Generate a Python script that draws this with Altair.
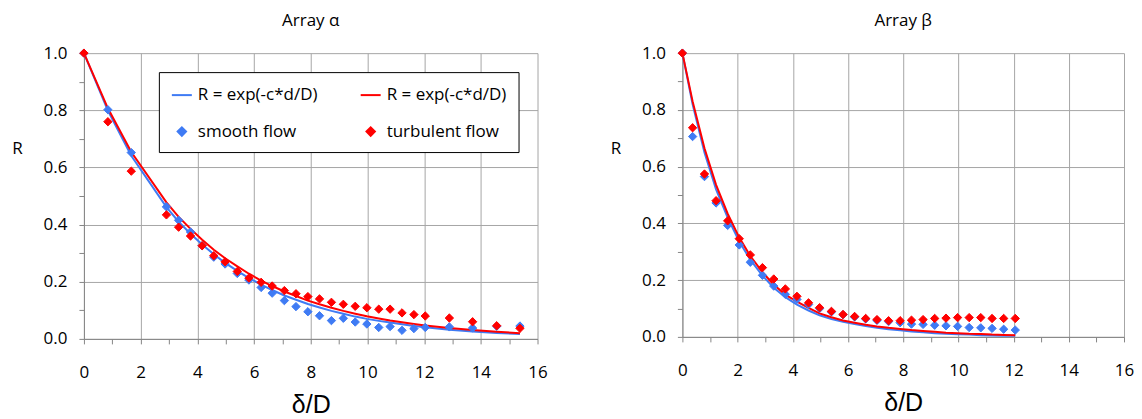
import altair as alt
import pandas as pd

BLUE = "#3f7bf4"
RED = "#ff0000"
FIT_S = "fit smooth"
FIT_T = "fit turbulent"
FIT_LABEL = "R = exp(-c*d/D)"

# ---- Array alpha ----
alpha_x = [0, 0.845, 1.67, 2.91, 3.34, 3.76, 4.17, 4.58, 4.98, 5.41, 5.82, 6.25, 6.64, 7.07, 7.48,
           7.90, 8.31, 8.73, 9.15, 9.57, 9.98, 10.40, 10.80, 11.22, 11.64, 12.04, 12.89, 13.71, 14.56, 15.38]
alpha_smooth = [1.0, 0.802, 0.652, 0.462, 0.415, 0.374, 0.326, 0.286, 0.262, 0.229, 0.206, 0.180, 0.160,
                0.134, 0.113, 0.095, 0.081, 0.064, 0.072, 0.059, 0.052, 0.040, 0.043, 0.030, 0.036, 0.040,
                0.042, 0.038, 0.044, 0.045]
alpha_turb = [1.0, 0.760, 0.587, 0.434, 0.391, 0.360, 0.326, 0.291, 0.270, 0.236, 0.213, 0.198, 0.185,
              0.169, 0.158, 0.148, 0.140, 0.128, 0.121, 0.114, 0.109, 0.104, 0.104, 0.091, 0.085, 0.080,
              0.073, 0.060, 0.046, 0.037]
alpha_fit_smooth = [1.0, 0.799, 0.641, 0.461, 0.410, 0.368, 0.330, 0.296, 0.266, 0.238, 0.213, 0.190, 0.171,
                    0.152, 0.137, 0.122, 0.110, 0.098, 0.088, 0.078, 0.070, 0.063, 0.057, 0.051, 0.045, 0.041,
                    0.032, 0.026, 0.021, 0.017]
alpha_fit_turb = [1.0, 0.807, 0.654, 0.478, 0.427, 0.385, 0.347, 0.312, 0.282, 0.254, 0.228, 0.204, 0.185,
                  0.166, 0.150, 0.134, 0.121, 0.109, 0.098, 0.088, 0.079, 0.071, 0.064, 0.058, 0.052, 0.047,
                  0.038, 0.031, 0.025, 0.020]

# ---- Array beta ----
beta_x = [0, 0.37, 0.80, 1.22, 1.64, 2.06, 2.46, 2.90, 3.31, 3.73, 4.15, 4.57, 4.97, 5.40, 5.82, 6.24,
          6.64, 7.05, 7.47, 7.89, 8.30, 8.72, 9.14, 9.55, 9.97, 10.39, 10.81, 11.22, 11.64, 12.06]
beta_smooth = [1.0, 0.706, 0.565, 0.472, 0.393, 0.324, 0.263, 0.217, 0.179, 0.150, 0.132, 0.114, 0.100,
               0.088, 0.078, 0.070, 0.063, 0.058, 0.054, 0.050, 0.045, 0.044, 0.041, 0.039, 0.037, 0.033,
               0.032, 0.030, 0.027, 0.024]
beta_turb = [1.0, 0.737, 0.574, 0.480, 0.409, 0.346, 0.289, 0.244, 0.204, 0.169, 0.143, 0.120, 0.103,
             0.090, 0.079, 0.072, 0.065, 0.061, 0.057, 0.057, 0.059, 0.061, 0.065, 0.066, 0.068, 0.068,
             0.068, 0.065, 0.065, 0.065]
beta_fit_smooth = [1.0, 0.82, 0.65, 0.52, 0.420, 0.336, 0.272, 0.216, 0.173, 0.140, 0.114, 0.093, 0.076,
                   0.063, 0.053, 0.045, 0.038, 0.032, 0.027, 0.023, 0.019, 0.016, 0.013, 0.011, 0.009, 0.008,
                   0.006, 0.005, 0.004, 0.004]
beta_fit_turb = [1.0, 0.83, 0.665, 0.536, 0.434, 0.350, 0.285, 0.228, 0.184, 0.149, 0.124, 0.102, 0.083,
                 0.069, 0.058, 0.050, 0.043, 0.037, 0.032, 0.028, 0.024, 0.021, 0.018, 0.015, 0.013, 0.011,
                 0.010, 0.008, 0.007, 0.006]

x_ticks = list(range(0, 17))
y_ticks = [round(i * 0.1, 1) for i in range(11)]

DOMAIN = [FIT_S, FIT_T, "smooth flow", "turbulent flow"]
COLORS = [BLUE, RED, BLUE, RED]
SHAPES = ["stroke", "stroke", "diamond", "diamond"]
SIZES = [400, 400, 70, 70]

FONT = "Open Sans"


def panel(title, xs, smooth, turb, fit_s, fit_t, w, h, lx, ly):
    pts = pd.DataFrame(
        [{"x": x, "R": r, "series": "smooth flow"} for x, r in zip(xs, smooth)]
        + [{"x": x, "R": r, "series": "turbulent flow"} for x, r in zip(xs, turb)]
    )
    fits = pd.DataFrame(
        [{"x": x, "R": r, "series": FIT_S} for x, r in zip(xs, fit_s)]
        + [{"x": x, "R": r, "series": FIT_T} for x, r in zip(xs, fit_t)]
    )
    xscale = alt.Scale(domain=[0, 16], nice=False, zero=False)
    yscale = alt.Scale(domain=[0, 1], nice=False)
    xaxis = alt.Axis(
        values=x_ticks, title="δ/D", titleFont="Liberation Sans", titleFontSize=25,
        titleFontWeight="normal", titleColor="#000", titlePadding=12,
        labelFont=FONT, labelFontSize=17, labelColor="#000", labelPadding=21,
        labelFlush=False,
        labelExpr="datum.value % 2 == 0 ? datum.label : ''",
        tickSize=5, tickColor="#868686", domainColor="#868686",
        gridColor="#a6a6a6",
        gridOpacity={"condition": {"test": "datum.value % 2 == 0", "value": 1}, "value": 0},
    )
    yaxis = alt.Axis(
        values=y_ticks, title="R", titleAngle=0, titleX=-67, titleY=95,
        titleAlign="center", titleBaseline="middle",
        titleFont=FONT, titleFontSize=17, titleFontWeight="normal", titleColor="#000",
        labelFont=FONT, labelFontSize=17, labelColor="#000", labelPadding=12,
        labelFlush=False,
        labelExpr="round(datum.value*10) % 2 == 0 ? format(datum.value, '.1f') : ''",
        tickSize=5, tickColor="#868686", domainColor="#868686",
        gridColor="#a6a6a6",
        gridOpacity={"condition": {"test": "round(datum.value*10) % 2 == 0", "value": 1}, "value": 0},
    )
    legend = alt.Legend(
        title=None, orient="none", legendX=lx, legendY=ly, columns=2, direction="horizontal",
        labelFont=FONT, labelFontSize=17, labelColor="#000",
        labelExpr="indexof(datum.label, 'fit') == 0 ? '" + FIT_LABEL + "' : datum.label",
        symbolStrokeWidth=2, padding=12, rowPadding=19, columnPadding=39, labelOffset=5,
        strokeColor="black", fillColor="white",
    )
    lines = alt.Chart(fits).mark_line(strokeWidth=2).encode(
        x=alt.X("x:Q", scale=xscale, axis=xaxis),
        y=alt.Y("R:Q", scale=yscale, axis=yaxis),
        stroke=alt.Stroke("series:N", scale=alt.Scale(domain=DOMAIN, range=COLORS), legend=legend),
    )
    points = alt.Chart(pts).mark_point(filled=True, opacity=1, strokeWidth=1).encode(
        x=alt.X("x:Q", scale=xscale, axis=xaxis),
        y=alt.Y("R:Q", scale=yscale, axis=yaxis),
        fill=alt.Fill("series:N", scale=alt.Scale(domain=DOMAIN, range=COLORS), legend=legend),
        stroke=alt.Stroke("series:N", scale=alt.Scale(domain=DOMAIN, range=COLORS), legend=legend),
        shape=alt.Shape("series:N", scale=alt.Scale(domain=DOMAIN, range=SHAPES), legend=legend),
        size=alt.Size("series:N", scale=alt.Scale(type="ordinal", domain=DOMAIN, range=SIZES), legend=legend),
    )
    return alt.layer(lines, points).properties(
        width=w, height=h,
        title=alt.Title(title, font=FONT, fontSize=17, fontWeight="normal", color="#000",
                        anchor="middle", offset=14),
    )


left = panel("Array α", alpha_x, alpha_smooth, alpha_turb, alpha_fit_smooth, alpha_fit_turb,
             454, 286, 75, 19)
right = panel("Array β", beta_x, beta_smooth, beta_turb, beta_fit_smooth, beta_fit_turb,
              442, 284, 74, 21)

chart = alt.hconcat(left, right, spacing=62).properties(
    padding={"left": 3, "top": 4, "right": 0, "bottom": 0},
    background="white",
).configure_view(stroke=None)

chart.save("out.html", embed_options={"renderer": "svg", "actions": False})
